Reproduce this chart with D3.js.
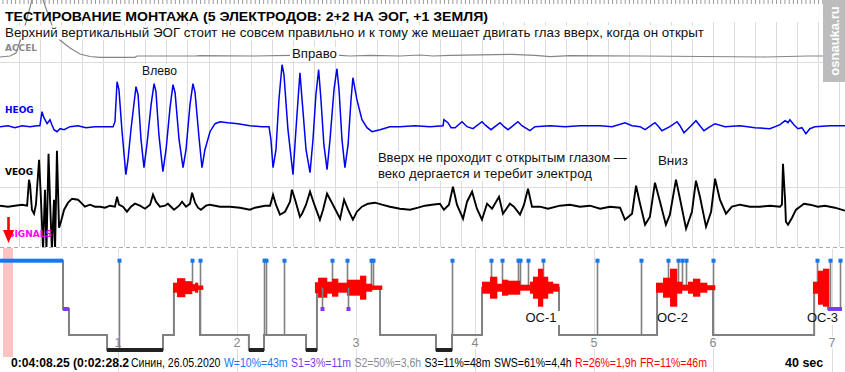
<!DOCTYPE html>
<html>
<head>
<meta charset="utf-8">
<script src="https://d3js.org/d3.v7.min.js"></script>
<style>
    body { margin: 0; background: #fff; overflow: hidden; }
    svg { display: block; font-family: "Liberation Sans", Arial, sans-serif; }
    .grid line { stroke: #dcdcdc; stroke-width: 1; }
    .ruler line { stroke: #9a9a9a; stroke-width: 1; }
    .chan { font-family: "DejaVu Sans", sans-serif; font-weight: bold; font-size: 9px; }
    .note { font-size: 13px; fill: #111; }
</style>
</head>
<body>
<svg width="845" height="372"></svg>
<script>
    // ---- data ----
    // ACCEL, HEOG, VEOG: [time in s, amplitude]
    const accel = [[0.08,5],[0.56,6],[0.84,9],[1.22,32],[1.6,62],[1.7,82],[1.98,82],[2.13,62],[2.55,37],[2.93,22],
        [3.41,14],[3.89,8],[4.36,5.5],[4.84,4.7],[6.5,4.7],[6.6,6],[9.36,6],[9.6,6.3],[12.21,6],[13.88,6.7],
        [16.26,6.7],[16.73,6],[17.68,6.7],[19.11,6],[20.06,7],[20.68,6],[21.49,6.7],[24.44,7.7],[25.53,6.7],
        [26.25,5.3],[27.2,6.3],[30.53,6],[36.52,5],[38.52,6],[40.2,6]];

    const heog = [[0.08,0],[0.46,1],[0.79,-1],[1.13,1],[1.51,0],[1.84,1],[1.98,1],[2.08,15],[2.17,9],[2.32,3],
        [2.46,7],[2.55,2],[2.65,-3],[2.79,-5],[2.94,-2],[3.13,-3],[3.41,0],[3.79,1],[4.17,-1],[4.6,0],[5.08,0],
        [5.46,0],[5.55,5],[5.65,45],[5.74,37],[5.88,-3],[6.07,-48],[6.17,-33],[6.31,-3],[6.55,40],[6.65,32],
        [6.79,-13],[6.93,-41],[7.07,-18],[7.27,22],[7.41,43],[7.5,35],[7.64,-8],[7.83,-45],[7.98,-23],[8.17,19],
        [8.31,42],[8.41,34],[8.6,-13],[8.79,-41],[8.93,-23],[9.12,22],[9.26,43],[9.36,34],[9.55,-11],[9.69,-41],
        [9.83,-23],[10.07,-5],[10.31,3],[10.55,5],[10.93,4],[11.4,3],[11.97,1],[12.54,0],[12.88,0],[12.97,-13],
        [13.07,-41],[13.21,-23],[13.35,27],[13.5,62],[13.59,52],[13.78,-3],[14.02,-48],[14.16,-3],[14.35,54],
        [14.49,17],[14.64,-23],[14.83,-46],[14.97,-13],[15.11,32],[15.24,57],[15.35,27],[15.49,-18],[15.64,-43],
        [15.78,-13],[15.97,37],[16.11,58],[16.21,37],[16.35,-13],[16.49,-41],[16.64,-18],[16.78,27],[16.87,49],
        [17.06,27],[17.3,7],[17.54,-1],[17.78,-5],[18.16,-3],[18.63,0],[19.11,0],[19.82,1],[20.54,0],[21.16,1],
        [21.2,7],[21.39,4],[21.54,-1],[21.73,-1],[22.06,5],[22.3,0],[22.58,-2],[23.01,5],[23.2,1],[23.44,-3],
        [23.87,4],[24.06,0],[24.25,-3],[24.72,5],[24.91,1],[25.29,-4],[25.53,0],[26.25,1],[26.96,0],[27.67,1],
        [28.63,1],[29.2,0],[29.81,4],[30.15,1],[30.53,0],[30.77,-3],[31.24,4],[31.38,1],[31.57,-4],[31.95,0],
        [32.29,5],[32.43,1],[32.62,-6],[32.91,0],[33.19,6],[33.38,1],[33.57,-4],[33.86,0],[34.1,3],[34.57,0],
        [35.29,1],[36.0,-1],[36.71,-2],[37.19,2],[37.43,6],[37.57,4],[37.66,7],[37.85,2],[38.04,-2],[38.23,-1],
        [38.42,-7],[38.61,-2],[38.85,0],[39.57,1],[40.28,1]];

    const veog = [[0.08,1],[0.46,0],[0.79,1],[1.13,2],[1.37,1],[1.46,27],[1.51,22],[1.6,-3],[1.7,-7],[1.79,2],
        [1.94,47],[2.03,7],[2.13,-43],[2.22,17],[2.29,-43],[2.39,53],[2.46,7],[2.55,-43],[2.65,7],[2.7,-43],
        [2.79,56],[2.89,-21],[2.98,-15],[3.13,-3],[3.32,4],[3.51,8],[3.79,7],[3.98,3],[4.12,0],[4.36,2],[4.6,0],
        [4.84,0],[5.08,-1],[5.31,1],[5.55,0],[5.65,10],[5.74,2],[5.93,0],[6.12,-5],[6.31,0],[6.5,3],[6.74,1],
        [6.98,-2],[7.22,2],[7.36,12],[7.5,5],[7.69,0],[7.93,1],[8.07,3],[8.36,-3],[8.6,1],[8.74,5],[8.93,0],
        [9.12,3],[9.22,14],[9.36,4],[9.5,-1],[9.64,-3],[9.88,1],[10.07,2],[10.55,0],[11.02,0],[11.5,-1],
        [11.97,-3],[12.21,-1],[12.45,0],[12.69,1],[12.93,1],[13.07,12],[13.21,2],[13.4,-8],[13.64,-5],[13.88,5],
        [13.97,17],[14.12,7],[14.35,-10],[14.45,-7],[14.64,2],[14.83,15],[15.02,3],[15.3,-13],[15.45,-3],
        [15.64,13],[15.92,2],[16.26,-12],[16.45,7],[16.64,-3],[16.87,-13],[17.06,-5],[17.3,0],[17.59,3],
        [17.92,4],[18.25,2],[18.63,0],[19.11,-2],[19.59,-3],[19.97,-1],[20.3,1],[20.63,2],[21.01,3],[21.2,-3],
        [21.44,2],[21.63,20],[21.82,2],[22.11,-12],[22.3,5],[22.54,15],[22.77,-2],[23.01,-13],[23.25,3],
        [23.49,-2],[23.82,10],[24.01,-7],[24.34,3],[24.53,0],[24.82,-8],[25.01,2],[25.2,18],[25.39,0],[25.77,0],
        [26.15,-2],[26.72,1],[27.2,2],[27.67,0],[28.15,1],[28.63,-2],[29.1,0],[29.58,-1],[29.81,-13],[30.15,-7],
        [30.34,21],[30.53,3],[30.77,-18],[31.0,-10],[31.24,24],[31.48,5],[31.76,-18],[31.95,-8],[32.24,27],
        [32.43,8],[32.72,-22],[33.0,-5],[33.19,26],[33.38,10],[33.67,-20],[33.91,-5],[34.1,28],[34.33,7],
        [34.62,-7],[34.9,0],[35.29,2],[35.76,0],[36.24,0],[36.71,1],[37.19,0],[37.28,2],[37.33,43],[37.43,7],
        [37.47,-15],[37.57,-18],[37.76,-11],[37.95,-3],[38.14,0],[38.33,3],[38.61,2],[38.99,0],[39.33,1],
        [39.8,-1],[40.28,-4]];

    // hypnogram: [start h, end h, stage]
    const hypno = [[0,0.538,'W'],[0.538,0.588,'S1'],[0.588,0.908,'S2'],[0.908,1.378,'S3'],[1.378,1.47,'S2'],
        [1.47,1.689,'R'],[1.689,2.1,'S2'],[2.1,2.227,'S3'],[2.227,2.58,'S2'],[2.58,2.672,'S3'],[2.672,3.202,'R'],
        [3.202,3.672,'S2'],[3.672,3.807,'S3'],[3.807,4.059,'S2'],[4.059,4.706,'R'],[4.706,5.53,'S2'],
        [5.53,6.0,'R'],[6.0,6.85,'S2'],[6.85,6.966,'R'],[6.966,7.084,'S1']];
    // REM intensity: [start h, end h, amplitude]
    const remBursts = [
        [1.462,1.496,5],[1.496,1.563,9.5],[1.563,1.622,6.5],[1.622,1.647,3.5],[1.647,1.672,5],[1.672,1.714,2.2],
        [2.655,2.681,5.5],[2.681,2.756,10],[2.756,2.798,6],[2.798,2.849,9],[2.849,2.924,5],[2.924,3.034,8],
        [3.034,3.084,12],[3.084,3.134,4],[3.134,3.218,2.2],
        [4.059,4.126,6],[4.126,4.185,11],[4.185,4.227,4],[4.227,4.277,8],[4.277,4.378,7],[4.378,4.462,3],
        [4.462,4.487,6],[4.487,4.529,11],[4.529,4.571,19],[4.571,4.613,11],[4.613,4.655,6],[4.655,4.706,4],
        [5.521,5.58,5],[5.58,5.639,10],[5.639,5.697,19],[5.697,5.739,6],[5.739,5.79,3],[5.79,5.832,6],
        [5.832,5.891,9],[5.891,5.95,5],[5.95,6.017,2.5],
        [6.84,6.882,6],[6.882,6.924,17],[6.924,6.975,19]];
    const arousals = [1.008,1.622,1.689,2.23,2.244,2.395,2.798,2.924,3.126,3.143,3.807,4.134,4.227,4.361,
        4.378,4.445,4.571,5.025,5.395,5.622,5.706,5.739,5.773,6.0,6.874,6.983,7.067];
    const s1Marks = [2.714,2.933];
    const cycleNames = ['ОС-1','ОС-2','ОС-3'];
    const cycleHours = [4.555,5.66,6.92];
    const hourTicks = [1,2,3,4,5,6,7];
    const stages = ['W','R','S1','S2','S3'];
    const footerParts = ['Синин, 26.05.2020','W=10%=43m','S1=3%=11m','S2=50%=3,6h','S3=11%=48m',
        'SWS=61%=4,4h','R=26%=1,9h','FR=11%=46m'];

    // ---- styles ----
    const footerColors = ['#000','#1478f0','#7a3cf2','#8c8c8c','#000','#000','#f00','#f00'];
    const stageFill = {W: '#1478f0', S1: '#7a3cf2', S3: '#222'};

    const svg = d3.select('svg');

    // scales
    const x = d3.scaleLinear().domain([0, 40]).range([-1.7, 839.1]);
    const accelY = d3.scaleLinear().domain([0, 62]).range([62, 0]);
    const heogY = d3.scaleLinear().domain([-50, 50]).range([176.7, 76.7]);
    const veogY = d3.scaleLinear().domain([-40, 40]).range([246.7, 166.7]);
    const hx = d3.scaleLinear().domain([0, 7]).range([-1, 832]);
    const stageY = d3.scaleOrdinal().domain(stages).range([260.7, 287.7, 309, 335, 350]);
    const amp = d3.scaleLinear().domain([0, 20]).range([0, 20]);

    svg.append('defs').append('clipPath').attr('id', 'sig')
        .append('rect').attr('x', 0).attr('y', 0).attr('width', 845).attr('height', 247);
    svg.select('defs').append('clipPath').attr('id', 'timeclip')
        .append('rect').attr('x', 0).attr('y', 350).attr('width', 130).attr('height', 22);

    // top ruler
    svg.append('g').attr('class', 'ruler').selectAll('line')
        .data(d3.range(0, 200)).join('line')
        .attr('x1', d => x(d / 5) + 0.5).attr('x2', d => x(d / 5) + 0.5)
        .attr('y1', 0).attr('y2', 4);

    // grid
    const grid = svg.append('g').attr('class', 'grid');
    grid.selectAll('line.v').data(d3.range(0, 41)).join('line').attr('class', 'v')
        .attr('x1', d => Math.round(x(d)) + 0.5).attr('x2', d => Math.round(x(d)) + 0.5)
        .attr('y1', 22).attr('y2', 247);
    grid.selectAll('line.h').data([accelY(0), veogY(20)]).join('line').attr('class', 'h')
        .attr('x1', 0).attr('x2', 845)
        .attr('y1', d => Math.round(d) + 0.5).attr('y2', d => Math.round(d) + 0.5);
    svg.append('line').attr('x1', 0).attr('x2', 845).attr('y1', 247.5).attr('y2', 247.5)
        .attr('stroke', '#a8a8a8').attr('stroke-dasharray', '4,3');

    // hour lines of the hypnogram
    svg.append('g').selectAll('line').data(hourTicks).join('line')
        .attr('x1', d => Math.round(hx(d)) + 0.5).attr('x2', d => Math.round(hx(d)) + 0.5)
        .attr('y1', 249).attr('y2', 372).attr('stroke', '#dedede');

    // pink marker of the current position
    svg.append('rect').attr('x', 3).attr('y', 248).attr('width', 10).attr('height', 109).attr('fill', '#ffc2c2');

    // signals
    const sig = svg.append('g').attr('clip-path', 'url(#sig)');
    sig.append('path').datum(accel).attr('fill', 'none').attr('stroke', '#858585').attr('stroke-width', 1.2)
        .attr('d', d3.line().x(d => x(d[0])).y(d => accelY(d[1])));
    sig.append('path').datum(heog).attr('fill', 'none').attr('stroke', '#0000f0').attr('stroke-width', 1.5)
        .attr('d', d3.line().x(d => x(d[0])).y(d => heogY(d[1])));
    sig.append('path').datum(veog).attr('fill', 'none').attr('stroke', '#000').attr('stroke-width', 1.9)
        .attr('d', d3.line().x(d => x(d[0])).y(d => veogY(d[1])));

    // text with opaque white background
    function boxed(parent, px, py, str, cls, len) {
        const g = parent.append('g');
        const t = g.append('text').attr('x', px).attr('y', py).attr('class', cls).text(str);
        if (len) t.attr('textLength', len).attr('lengthAdjust', 'spacingAndGlyphs');
        const b = t.node().getBBox();
        g.insert('rect', 'text').attr('x', b.x - 2).attr('y', b.y + 1)
            .attr('width', b.width + 4).attr('height', b.height - 1).attr('fill', '#fff');
        return t;
    }

    // title lines
    svg.append('text').attr('x', 5).attr('y', 21).attr('font-size', 12.5).attr('font-weight', 'bold')
        .attr('textLength', 483).attr('lengthAdjust', 'spacingAndGlyphs')
        .text('ТЕСТИРОВАНИЕ МОНТАЖА (5 ЭЛЕКТРОДОВ: 2+2 НА ЭОГ, +1 ЗЕМЛЯ)');
    boxed(svg, 5, 36.5, 'Верхний вертикальный ЭОГ стоит не совсем правильно и к тому же мешает двигать глаз вверх, когда он открыт', 'note', 699);

    // annotations
    boxed(svg, x(6.84), 75, 'Влево', 'note', 35);
    boxed(svg, x(13.97), 58, 'Вправо', 'note', 45);
    boxed(svg, x(18.06), 162, 'Вверх не проходит с открытым глазом —', 'note', 249);
    boxed(svg, x(18.06), 178, 'веко дергается и теребит электрод', 'note', 214);
    boxed(svg, x(31.38), 165, 'Вниз', 'note', 30);

    // channel labels
    svg.append('text').attr('class', 'chan').attr('x', 5).attr('y', 51).attr('fill', '#8a8a8a').text('ACCEL');
    svg.append('text').attr('class', 'chan').attr('x', 5).attr('y', 113).attr('fill', '#0000f0').text('HEOG');
    svg.append('text').attr('class', 'chan').attr('x', 5).attr('y', 175).attr('fill', '#000').text('VEOG');
    svg.append('text').attr('class', 'chan').attr('x', 8).attr('y', 237).attr('fill', '#ff00ff').text('SIGNALS');

    // red arrow
    svg.append('line').attr('x1', 8.5).attr('x2', 8.5).attr('y1', 217).attr('y2', 231)
        .attr('stroke', '#f00').attr('stroke-width', 2.6);
    svg.append('path').attr('d', 'M3,230L14,230L8.5,243Z').attr('fill', '#f00');

    // hour labels
    svg.append('g').selectAll('text').data(hourTicks).join('text')
        .attr('x', d => hx(d)).attr('y', 347).attr('text-anchor', 'middle')
        .attr('font-size', 12.5).attr('fill', '#888')
        .attr('stroke', '#fff').attr('stroke-width', 3).attr('paint-order', 'stroke')
        .text(d => d);

    // hypnogram step line
    const steps = [];
    hypno.forEach(d => { steps.push([d[0], d[2]]); steps.push([d[1], d[2]]); });
    svg.append('path').datum(steps).attr('fill', 'none').attr('stroke', '#808080').attr('stroke-width', 2)
        .attr('d', d3.line().x(d => hx(d[0])).y(d => stageY(d[1])));

    const stageAt = h => (hypno.find(d => h >= d[0] && h < d[1]) || hypno[hypno.length - 1])[2];

    // arousal lines (under the REM blobs)
    svg.append('g').selectAll('line').data(arousals).join('line')
        .attr('x1', d => Math.round(hx(d)) + 0.5).attr('x2', d => Math.round(hx(d)) + 0.5)
        .attr('y1', stageY('W')).attr('y2', d => stageY(stageAt(d)))
        .attr('stroke', '#808080').attr('stroke-width', 1.6);

    // stage bars
    svg.append('g').selectAll('rect').data(hypno.filter(d => stageFill[d[2]])).join('rect')
        .attr('x', d => hx(d[0])).attr('width', d => hx(d[1]) - hx(d[0]))
        .attr('y', d => stageY(d[2]) - 2).attr('height', 4)
        .attr('fill', d => stageFill[d[2]]);

    // REM blobs
    svg.append('g').selectAll('rect').data(remBursts).join('rect')
        .attr('x', d => hx(d[0])).attr('width', d => hx(d[1]) - hx(d[0]) + 0.3)
        .attr('y', d => stageY('R') - amp(d[2])).attr('height', d => 2 * amp(d[2]))
        .attr('fill', '#f00');

    // S1 marks inside REM
    svg.append('g').selectAll('line').data(s1Marks).join('line')
        .attr('x1', d => Math.round(hx(d)) + 0.5).attr('x2', d => Math.round(hx(d)) + 0.5)
        .attr('y1', stageY('R')).attr('y2', stageY('S1'))
        .attr('stroke', '#808080').attr('stroke-width', 1.6);
    svg.append('g').selectAll('rect').data(s1Marks).join('rect')
        .attr('x', d => Math.round(hx(d)) - 1.5).attr('y', stageY('S1') - 2)
        .attr('width', 4).attr('height', 4).attr('fill', '#7a3cf2');

    // arousal squares
    svg.append('g').selectAll('rect').data(arousals).join('rect')
        .attr('x', d => Math.round(hx(d)) - 1.5).attr('y', stageY('W') - 2)
        .attr('width', 4).attr('height', 4).attr('fill', '#1478f0');

    // cycle labels
    cycleNames.forEach((s, i) => {
        boxed(svg, hx(cycleHours[i]), 322, s, 'note').attr('text-anchor', 'middle').attr('font-size', 12.5);
    });

    // footer: time (cut by the next text as on screen), then the coloured summary
    svg.append('text').attr('clip-path', 'url(#timeclip)').attr('x', 11).attr('y', 367)
        .attr('font-size', 12.5).attr('font-weight', 'bold')
        .attr('textLength', 118).attr('lengthAdjust', 'spacingAndGlyphs')
        .text('0:04:08.25 (0:02:28.2');
    // laid out at full size, then squeezed horizontally to the width it has on screen
    const foot = svg.append('g');
    const gap = 4;
    let fx = 0;
    footerParts.forEach((s, i) => {
        const t = foot.append('text').attr('x', fx).attr('y', 367).attr('font-size', 12.5)
            .attr('fill', footerColors[i]).text(s);
        fx += t.node().getComputedTextLength() + gap;
    });
    foot.attr('transform', 'translate(131,0) scale(' + ((707 - 131) / (fx - gap)) + ',1)');
    svg.append('text').attr('x', 785).attr('y', 367).attr('font-size', 12.5).attr('font-weight', 'bold').text('40 sec');

    // watermark
    svg.append('rect').attr('x', 823).attr('y', 0).attr('width', 22).attr('height', 82).attr('fill', '#bcbcbc');
    svg.append('text').attr('transform', 'translate(839,41) rotate(-90)').attr('text-anchor', 'middle')
        .attr('font-size', 13).attr('font-weight', 'bold').attr('fill', '#fff').text('osnauka.ru');
</script>
</body>
</html>
